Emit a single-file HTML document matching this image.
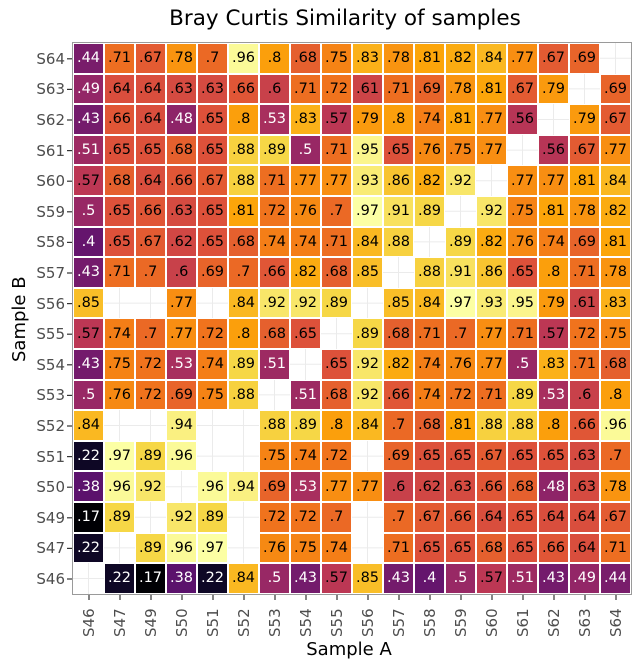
<!DOCTYPE html>
<html><head><meta charset="utf-8">
<style>
body{margin:0;background:#fff;width:643px;height:670px;position:relative;font-family:"DejaVu Sans","Liberation Sans",sans-serif;overflow:hidden}
#title{position:absolute;top:6px;left:66px;width:558px;text-align:center;font-size:21.5px;color:#000}
#panel{position:absolute;left:72px;top:42px;width:558px;height:551px;border:1.5px solid #9a9a9a;background:#fff}
#grid{position:absolute;left:0;top:0;width:558px;height:551px;display:grid;grid-template-columns:repeat(18,31px);grid-template-rows:repeat(18,30.6px)}
#grid div{box-sizing:border-box;border:0.5px solid #fff;font-size:14.5px;display:flex;align-items:center;justify-content:center;color:#000}
#grid div:empty{border:none}
.yl{position:absolute;right:578px;font-size:15px;line-height:18px;color:#4d4d4d;text-align:right;transform:translateY(-50%)}
.xl{position:absolute;top:637px;font-size:15px;line-height:18px;color:#4d4d4d;transform:rotate(-90deg);transform-origin:left top;white-space:nowrap}
#ya{position:absolute;left:9px;top:362px;font-size:18px;transform:rotate(-90deg);transform-origin:left top}
#xa{position:absolute;top:639px;left:70px;width:558px;text-align:center;font-size:18px}
#ticks{position:absolute;left:0;top:0}
</style></head><body>
<div id="title">Bray Curtis Similarity of samples</div>
<svg id="ticks" width="643" height="670"><g stroke="#333" stroke-width="1.2" id="tk"></g></svg>
<div id="panel">
<svg width="558" height="551" style="position:absolute;left:0;top:0">
<g stroke="#ebebeb" stroke-width="1" id="gl"></g>
</svg>
<div id="grid">
<div>.44</div><div>.71</div><div>.67</div><div>.78</div><div>.7</div><div>.96</div><div>.8</div><div>.68</div><div>.75</div><div>.83</div><div>.78</div><div>.81</div><div>.82</div><div>.84</div><div>.77</div><div>.67</div><div>.69</div><div></div>
<div>.49</div><div>.64</div><div>.64</div><div>.63</div><div>.63</div><div>.66</div><div>.6</div><div>.71</div><div>.72</div><div>.61</div><div>.71</div><div>.69</div><div>.78</div><div>.81</div><div>.67</div><div>.79</div><div></div><div>.69</div>
<div>.43</div><div>.66</div><div>.64</div><div>.48</div><div>.65</div><div>.8</div><div>.53</div><div>.83</div><div>.57</div><div>.79</div><div>.8</div><div>.74</div><div>.81</div><div>.77</div><div>.56</div><div></div><div>.79</div><div>.67</div>
<div>.51</div><div>.65</div><div>.65</div><div>.68</div><div>.65</div><div>.88</div><div>.89</div><div>.5</div><div>.71</div><div>.95</div><div>.65</div><div>.76</div><div>.75</div><div>.77</div><div></div><div>.56</div><div>.67</div><div>.77</div>
<div>.57</div><div>.68</div><div>.64</div><div>.66</div><div>.67</div><div>.88</div><div>.71</div><div>.77</div><div>.77</div><div>.93</div><div>.86</div><div>.82</div><div>.92</div><div></div><div>.77</div><div>.77</div><div>.81</div><div>.84</div>
<div>.5</div><div>.65</div><div>.66</div><div>.63</div><div>.65</div><div>.81</div><div>.72</div><div>.76</div><div>.7</div><div>.97</div><div>.91</div><div>.89</div><div></div><div>.92</div><div>.75</div><div>.81</div><div>.78</div><div>.82</div>
<div>.4</div><div>.65</div><div>.67</div><div>.62</div><div>.65</div><div>.68</div><div>.74</div><div>.74</div><div>.71</div><div>.84</div><div>.88</div><div></div><div>.89</div><div>.82</div><div>.76</div><div>.74</div><div>.69</div><div>.81</div>
<div>.43</div><div>.71</div><div>.7</div><div>.6</div><div>.69</div><div>.7</div><div>.66</div><div>.82</div><div>.68</div><div>.85</div><div></div><div>.88</div><div>.91</div><div>.86</div><div>.65</div><div>.8</div><div>.71</div><div>.78</div>
<div>.85</div><div></div><div></div><div>.77</div><div></div><div>.84</div><div>.92</div><div>.92</div><div>.89</div><div></div><div>.85</div><div>.84</div><div>.97</div><div>.93</div><div>.95</div><div>.79</div><div>.61</div><div>.83</div>
<div>.57</div><div>.74</div><div>.7</div><div>.77</div><div>.72</div><div>.8</div><div>.68</div><div>.65</div><div></div><div>.89</div><div>.68</div><div>.71</div><div>.7</div><div>.77</div><div>.71</div><div>.57</div><div>.72</div><div>.75</div>
<div>.43</div><div>.75</div><div>.72</div><div>.53</div><div>.74</div><div>.89</div><div>.51</div><div></div><div>.65</div><div>.92</div><div>.82</div><div>.74</div><div>.76</div><div>.77</div><div>.5</div><div>.83</div><div>.71</div><div>.68</div>
<div>.5</div><div>.76</div><div>.72</div><div>.69</div><div>.75</div><div>.88</div><div></div><div>.51</div><div>.68</div><div>.92</div><div>.66</div><div>.74</div><div>.72</div><div>.71</div><div>.89</div><div>.53</div><div>.6</div><div>.8</div>
<div>.84</div><div></div><div></div><div>.94</div><div></div><div></div><div>.88</div><div>.89</div><div>.8</div><div>.84</div><div>.7</div><div>.68</div><div>.81</div><div>.88</div><div>.88</div><div>.8</div><div>.66</div><div>.96</div>
<div>.22</div><div>.97</div><div>.89</div><div>.96</div><div></div><div></div><div>.75</div><div>.74</div><div>.72</div><div></div><div>.69</div><div>.65</div><div>.65</div><div>.67</div><div>.65</div><div>.65</div><div>.63</div><div>.7</div>
<div>.38</div><div>.96</div><div>.92</div><div></div><div>.96</div><div>.94</div><div>.69</div><div>.53</div><div>.77</div><div>.77</div><div>.6</div><div>.62</div><div>.63</div><div>.66</div><div>.68</div><div>.48</div><div>.63</div><div>.78</div>
<div>.17</div><div>.89</div><div></div><div>.92</div><div>.89</div><div></div><div>.72</div><div>.72</div><div>.7</div><div></div><div>.7</div><div>.67</div><div>.66</div><div>.64</div><div>.65</div><div>.64</div><div>.64</div><div>.67</div>
<div>.22</div><div></div><div>.89</div><div>.96</div><div>.97</div><div></div><div>.76</div><div>.75</div><div>.74</div><div></div><div>.71</div><div>.65</div><div>.65</div><div>.68</div><div>.65</div><div>.66</div><div>.64</div><div>.71</div>
<div></div><div>.22</div><div>.17</div><div>.38</div><div>.22</div><div>.84</div><div>.5</div><div>.43</div><div>.57</div><div>.85</div><div>.43</div><div>.4</div><div>.5</div><div>.57</div><div>.51</div><div>.43</div><div>.49</div><div>.44</div>
</div>
</div>
<div id="ylabs">
<div class="yl" style="top:59px">S64</div><div class="yl" style="top:89px">S63</div><div class="yl" style="top:120px">S62</div><div class="yl" style="top:151px">S61</div><div class="yl" style="top:181px">S60</div><div class="yl" style="top:212px">S59</div><div class="yl" style="top:242px">S58</div><div class="yl" style="top:273px">S57</div><div class="yl" style="top:304px">S56</div><div class="yl" style="top:334px">S55</div><div class="yl" style="top:365px">S54</div><div class="yl" style="top:395px">S53</div><div class="yl" style="top:426px">S52</div><div class="yl" style="top:457px">S51</div><div class="yl" style="top:487px">S50</div><div class="yl" style="top:518px">S49</div><div class="yl" style="top:548px">S47</div><div class="yl" style="top:579px">S46</div>
</div>
<div id="xlabs">
<div class="xl" style="left:80px">S46</div><div class="xl" style="left:111px">S47</div><div class="xl" style="left:142px">S49</div><div class="xl" style="left:173px">S50</div><div class="xl" style="left:204px">S51</div><div class="xl" style="left:235px">S52</div><div class="xl" style="left:266px">S53</div><div class="xl" style="left:297px">S54</div><div class="xl" style="left:328px">S55</div><div class="xl" style="left:359px">S56</div><div class="xl" style="left:390px">S57</div><div class="xl" style="left:421px">S58</div><div class="xl" style="left:452px">S59</div><div class="xl" style="left:483px">S60</div><div class="xl" style="left:514px">S61</div><div class="xl" style="left:545px">S62</div><div class="xl" style="left:576px">S63</div><div class="xl" style="left:607px">S64</div>
</div>
<div id="ya">Sample B</div>
<div id="xa">Sample A</div>
<script>
var st=["#000004","#160b39","#420a68","#6a176e","#932667","#bc3754","#dd513a","#f37819","#fca50a","#f6d746","#fcffa4"];
function h(c){return [parseInt(c.substr(1,2),16),parseInt(c.substr(3,2),16),parseInt(c.substr(5,2),16)];}
function col(v){var t=(v-0.17)/0.8;t=Math.max(0,Math.min(1,t));var i=Math.min(9,Math.floor(t*10)),f=t*10-i;var a=h(st[i]),b=h(st[i+1]);return "rgb("+a.map(function(x,k){return Math.round(x+(b[k]-x)*f);}).join(",")+")";}
document.querySelectorAll("#grid div").forEach(function(d){var s=d.textContent.trim();if(!s)return;var v=parseFloat("0"+s);d.style.background=col(v);if(v<=0.53)d.style.color="#fff";});
var g=document.getElementById("gl"),s="",t="";
for(var i=0;i<18;i++){var x=15.5+31*i,y=15.3+30.6*i;s+='<line x1="'+x+'" y1="0" x2="'+x+'" y2="551"/><line x1="0" y1="'+y+'" x2="558" y2="'+y+'"/>';
var X=73.5+x,Y=43.5+y;t+='<line x1="'+X+'" y1="595" x2="'+X+'" y2="600"/><line x1="67" y1="'+Y+'" x2="72" y2="'+Y+'"/>';}
g.innerHTML=s;document.getElementById("tk").innerHTML=t;
</script>
</body></html>
